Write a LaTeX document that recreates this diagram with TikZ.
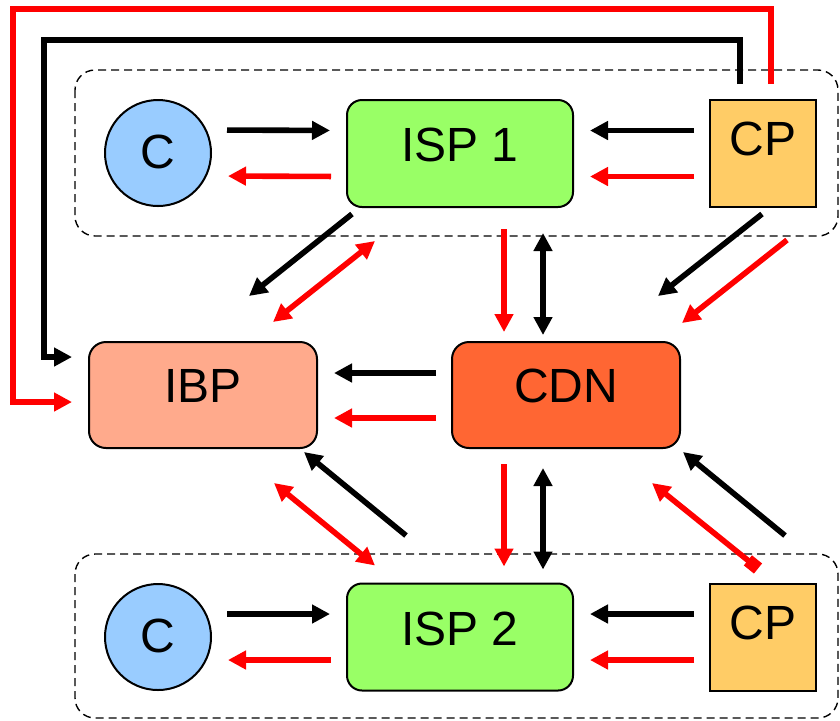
\documentclass[tikz,border=0pt]{standalone}
\usepackage{fontspec}
\setmainfont{Liberation Sans}
\usepackage{tikz}
\usetikzlibrary{arrows.meta}
\definecolor{clientblue}{HTML}{99CCFF}
\definecolor{ispgreen}{HTML}{99FF66}
\definecolor{cporange}{HTML}{FFCC66}
\definecolor{ibpsalmon}{HTML}{FFAA8C}
\definecolor{cdnorange}{HTML}{FF6633}
\newcommand{\bigfont}{\fontsize{24}{29}\selectfont}
\tikzstyle{group}=[draw, line width=0.7pt, dash pattern=on 4pt off 2.5pt, rounded corners=10pt]

\begin{document}
\begin{tikzpicture}[x=0.5pt, y=-0.5pt]
            \tikzset {
                basic node/.style={
                        draw,
                        line width=1pt,
                        font=\bigfont,
                        align=center,
                        inner sep=0pt,
                        text height=17.5pt
                    },
                client node/.style={basic node, circle, minimum size=53pt, fill=clientblue, text depth=2.5pt},
                isp node/.style={basic node, rounded corners=7.5pt, minimum width=113pt, minimum height=53.5pt, fill=ispgreen, text depth=9.5pt},
                cp node/.style={basic node, minimum width=53pt, minimum height=53.5pt, fill=cporange, text depth=15.5pt},
                core node/.style={basic node, rounded corners=8.5pt, minimum width=114pt, minimum height=53pt, text depth=10.5pt},
                blackarrow/.style={line width=2.8pt, -{Triangle[length=9pt, width=9pt]}},
                redarrow/.style={blackarrow, red},
                both/.style={{Triangle[length=9pt, width=9pt]}-{Triangle[length=9pt, width=9pt]}},
                gap/.style={shorten <=7.5pt, shorten >=8pt}
            }
            \useasboundingbox (0,0) rectangle (840,720);

            % groups
            \draw[group] (75,70) rectangle (838,236);
            \draw[group] (75,554) rectangle (838,718);

            % top row
            \node[client node] (c1) at (158,153) {C};
            \node[isp node] (isp1) at (460,153.5) {ISP 1};
            \node[cp node] (cp1) at (763,153.5) {CP};

            % middle row
            \node[core node, fill=ibpsalmon] (ibp) at (203,395) {IBP};
            \node[core node, fill=cdnorange] (cdn) at (566,395) {CDN};

            % bottom row
            \node[client node] (c2) at (158,637) {C};
            \node[isp node] (isp2) at (460,637) {ISP 2};
            \node[cp node] (cp2) at (763,637) {CP};

            % inside the groups
            \draw[blackarrow, gap] ([yshift=11.5pt]c1.east) -- ([yshift=11.5pt]isp1.west);
            \draw[redarrow, gap] ([yshift=-11.5pt]isp1.west) -- ([yshift=-11.5pt]c1.east);
            \draw[blackarrow, gap] ([yshift=11.5pt]cp1.west) -- ([yshift=11.5pt]isp1.east);
            \draw[redarrow, gap] ([yshift=-11.5pt]cp1.west) -- ([yshift=-11.5pt]isp1.east);
            \draw[blackarrow, gap] ([yshift=11.5pt]c2.east) -- ([yshift=11.5pt]isp2.west);
            \draw[redarrow, gap] ([yshift=-11.5pt]isp2.west) -- ([yshift=-11.5pt]c2.east);
            \draw[blackarrow, gap] ([yshift=11.5pt]cp2.west) -- ([yshift=11.5pt]isp2.east);
            \draw[redarrow, gap] ([yshift=-11.5pt]cp2.west) -- ([yshift=-11.5pt]isp2.east);

            % CDN to IBP
            \draw[blackarrow, gap] ([yshift=11pt]cdn.west) -- ([yshift=11pt]ibp.east);
            \draw[redarrow, gap] ([yshift=-11.5pt]cdn.west) -- ([yshift=-11.5pt]ibp.east);

            % long loops from the top CP
            \draw[redarrow, gap] ([xshift=4pt]cp1.north) |- (13,9) |- ([yshift=-3.5pt]ibp.west);
            \draw[blackarrow, gap] ([xshift=-11.5pt]cp1.north) |- (44,40) |- ([yshift=19pt]ibp.west);

            % ISP 1 and CDN
            \draw[redarrow, shorten <=10.5pt, shorten >=4.5pt] ([xshift=-31pt]cdn.north |- isp1.south) -- ([xshift=-31pt]cdn.north);
            \draw[blackarrow, both, shorten <=12.5pt, shorten >=3pt] ([xshift=-11.5pt]cdn.north |- isp1.south) -- ([xshift=-11.5pt]cdn.north);
            % CDN and ISP 2
            \draw[redarrow, shorten <=7.5pt, shorten >=8pt] ([xshift=-31pt]cdn.south) -- ([xshift=-31pt]cdn.south |- isp2.north);
            \draw[blackarrow, both, shorten <=9.5pt, shorten >=6.5pt] ([xshift=-11.5pt]cdn.south) -- ([xshift=-11.5pt]cdn.south |- isp2.north);

            % diagonals, top
            \draw[blackarrow] ([shift={(6,6)}]isp1.south west) -- ([shift={(-69,-45)}]ibp.north east);
            \draw[redarrow, both] ([shift={(-45,-19)}]ibp.north east) -- ([shift={(29,33)}]isp1.south west);
            \draw[blackarrow] ([shift={(-1,6)}]cp1.south) -- ([shift={(-23,-45)}]cdn.north east);
            \draw[redarrow] ([shift={(-30,32)}]cp1.south east) -- ([shift={(1,-18)}]cdn.north east);

            % diagonals, bottom
            \draw[blackarrow] ([shift={(60,-47)}]isp2.north west) -- ([shift={(-14,3)}]ibp.south east);
            \draw[redarrow, both] ([shift={(-44,34)}]ibp.south east) -- ([shift={(29,-17)}]isp2.north west);
            \draw[blackarrow] ([shift={(22,-47)}]cp2.north) -- ([shift={(2,3)}]cdn.south east);
            \draw[redarrow, {Square[length=6.5pt, width=6.5pt]}-{Triangle[length=9pt, width=9pt]}] ([shift={(-5,-14)}]cp2.north) -- ([shift={(-29,34)}]cdn.south east);
        \end{tikzpicture}
\end{document}
